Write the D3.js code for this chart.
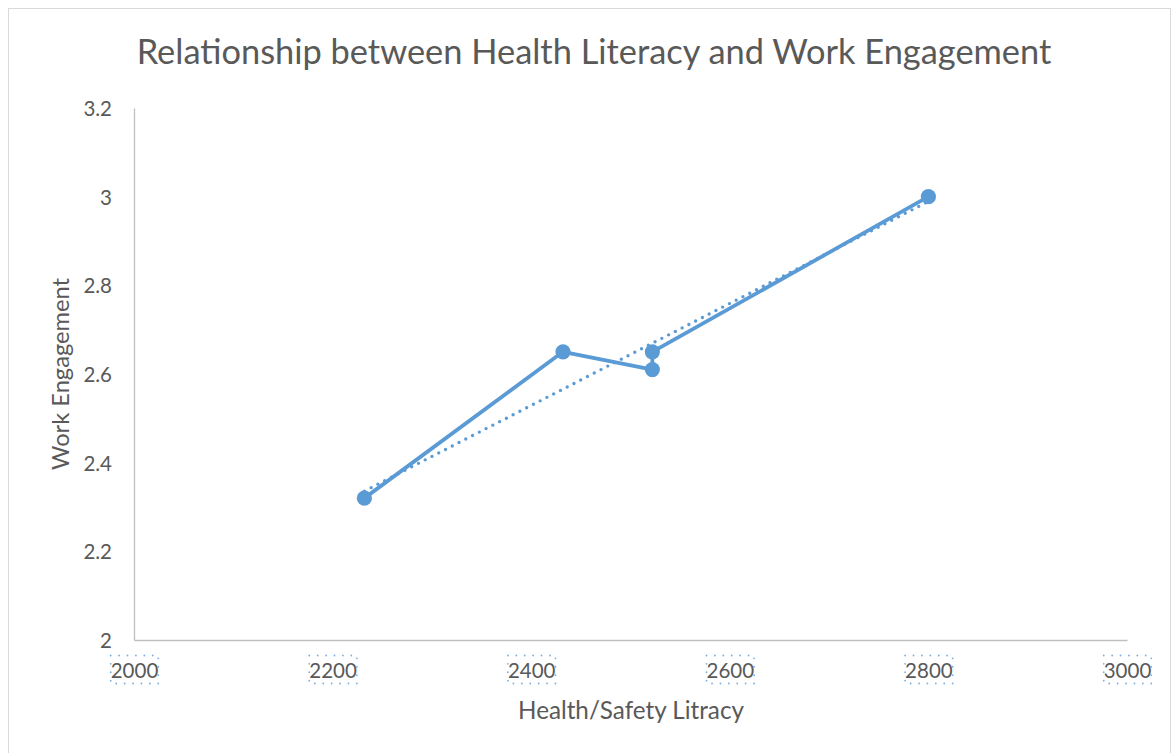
<!DOCTYPE html>
<html>
<head>
<meta charset="utf-8">
<script src="https://cdn.jsdelivr.net/npm/d3@7"></script>
<style>
  html, body { margin: 0; padding: 0; background: #fff; }
  svg { display: block; }
  text { font-family: Lato, "Open Sans", sans-serif; fill: #595959; }
</style>
</head>
<body>
<svg id="chart" width="1172" height="753"></svg>
<script>
// Health/safety literacy scores and matching work engagement means, in plot order
const literacy   = [2232, 2432, 2522, 2522, 2800];
const engagement = [2.32, 2.65, 2.61, 2.65, 3.00];

const xTicks = [2000, 2200, 2400, 2600, 2800, 3000];
const yTicks = [2, 2.2, 2.4, 2.6, 2.8, 3, 3.2];

const titleText = "Relationship between Health Literacy and Work Engagement";
const xTitle = "Health/Safety Litracy";
const yTitle = "Work Engagement";

const blue = "#5B9BD5";
const axisGrey = "#bfbfbf";
const tickFont = 20.5;

const svg = d3.select("#chart");
const W = 1172, H = 753;
const plot = { left: 134, right: 1127, top: 108, bottom: 640 };

// outer chart frame
svg.append("rect")
  .attr("x", 8.5).attr("y", 8.5)
  .attr("width", W - 10).attr("height", H - 2)
  .attr("fill", "#fff").attr("stroke", "#d9d9d9").attr("stroke-width", 1);

const x = d3.scaleLinear().domain([2000, 3000]).range([plot.left, plot.right]);
const y = d3.scaleLinear().domain([2, 3.2]).range([plot.bottom, plot.top]);

// fit a text element to a target width by adjusting its font size
function fitWidth(sel, target) {
  const node = sel.node();
  const fs = parseFloat(sel.attr("font-size"));
  const w = node.getComputedTextLength();
  if (w > 0) sel.attr("font-size", (fs * target / w).toFixed(2));
}

// title
const title = svg.append("text")
  .attr("x", 594).attr("y", 64)
  .attr("text-anchor", "middle")
  .attr("font-size", 32)
  .text(titleText);
fitWidth(title, 915);

// y axis
const yAxis = svg.append("g")
  .attr("transform", `translate(${plot.left},0)`)
  .call(d3.axisLeft(y).tickValues(yTicks).tickSize(0).tickPadding(22)
        .tickFormat(d => d3.format("")(+d.toFixed(1))));
yAxis.select(".domain").attr("stroke", axisGrey).attr("stroke-width", 1.3);
yAxis.selectAll("text")
  .attr("font-size", tickFont).attr("font-family", "Lato, 'Open Sans', sans-serif")
  .attr("fill", "#595959").attr("dy", "0.36em");

// x axis
const xAxis = svg.append("g")
  .attr("transform", `translate(0,${plot.bottom})`)
  .call(d3.axisBottom(x).tickValues(xTicks).tickSize(0).tickPadding(23.5)
        .tickFormat(d3.format("d")));
xAxis.select(".domain").attr("stroke", axisGrey).attr("stroke-width", 1.3);
xAxis.selectAll("text")
  .attr("font-size", tickFont).attr("font-family", "Lato, 'Open Sans', sans-serif")
  .attr("fill", "#595959").attr("dy", "0.71em");

// dotted highlight boxes around the x tick labels
xAxis.selectAll(".tick").each(function() {
  const t = d3.select(this).select("text").node();
  const w = t.getComputedTextLength();
  d3.select(this).insert("rect", "text")
    .attr("x", -w / 2).attr("y", 15.5)
    .attr("width", w).attr("height", 28)
    .attr("fill", "none")
    .attr("stroke", "#7aaee0")
    .attr("stroke-width", 1.8)
    .attr("stroke-linecap", "round")
    .attr("stroke-dasharray", "0,8.4");
});

// axis titles
const xt = svg.append("text")
  .attr("x", 631).attr("y", 719)
  .attr("text-anchor", "middle")
  .attr("font-size", 20)
  .text(xTitle);
fitWidth(xt, 226);

const yt = svg.append("text")
  .attr("transform", `translate(69,374) rotate(-90)`)
  .attr("text-anchor", "middle")
  .attr("font-size", 20)
  .text(yTitle);
fitWidth(yt, 192);

// data points as pairs
const pts = literacy.map((v, i) => ({ x: v, y: engagement[i] }));

// linear least-squares trendline spanning the observed literacy range
const mx = d3.mean(literacy), my = d3.mean(engagement);
const sxy = d3.sum(pts, p => (p.x - mx) * (p.y - my));
const sxx = d3.sum(pts, p => (p.x - mx) ** 2);
const slope = sxy / sxx, intercept = my - slope * mx;
const [x0, x1] = d3.extent(literacy);
const trend = [x0, x1].map(v => ({ x: v, y: intercept + slope * v }));

const line = d3.line().x(d => x(d.x)).y(d => y(d.y));

svg.append("path")
  .datum(trend)
  .attr("d", line)
  .attr("fill", "none")
  .attr("stroke", blue)
  .attr("stroke-width", 3.4)
  .attr("stroke-linecap", "round")
  .attr("stroke-dasharray", "0,7.6");

svg.append("path")
  .datum(pts)
  .attr("d", line)
  .attr("fill", "none")
  .attr("stroke", blue)
  .attr("stroke-width", 3.8)
  .attr("stroke-linejoin", "round");

svg.selectAll("circle.pt")
  .data(pts)
  .join("circle")
  .attr("class", "pt")
  .attr("cx", d => x(d.x))
  .attr("cy", d => y(d.y))
  .attr("r", 7.6)
  .attr("fill", blue);
</script>
</body>
</html>
